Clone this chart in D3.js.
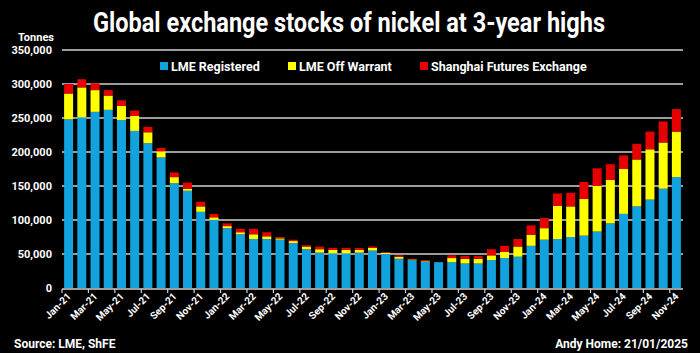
<!DOCTYPE html>
<html>
<head>
<meta charset="utf-8">
<script src="https://cdn.jsdelivr.net/npm/d3@7"></script>
<style>
  body { margin: 0; background: #000; }
  svg { display: block; }
  text { font-family: Roboto, "Liberation Sans", sans-serif; font-weight: bold; fill: #fff; }
</style>
</head>
<body>
<div id="chart"></div>
<script>
// months Jan-21 .. Nov-24
const months = ["Jan-21","Feb-21","Mar-21","Apr-21","May-21","Jun-21","Jul-21","Aug-21","Sep-21","Oct-21","Nov-21","Dec-21",
  "Jan-22","Feb-22","Mar-22","Apr-22","May-22","Jun-22","Jul-22","Aug-22","Sep-22","Oct-22","Nov-22","Dec-22",
  "Jan-23","Feb-23","Mar-23","Apr-23","May-23","Jun-23","Jul-23","Aug-23","Sep-23","Oct-23","Nov-23","Dec-23",
  "Jan-24","Feb-24","Mar-24","Apr-24","May-24","Jun-24","Jul-24","Aug-24","Sep-24","Oct-24","Nov-24"];

// tonnes (thousands)
const lmeRegistered = [248,251,259,262,247,231,213,192,154,143,112,100,
  88,79,72,72,71,66,57,52,51,51,52,55,
  50,43,41,39,38,38,36,36,41,44,46,62,
  71,72,75,77,83,95,109,120,130,146,163];
const lmeOffWarrant = [38,44,32,21,21,22,16,9,9,3,8,4,
  3,3,7,4,2,3,4,5,5,5,4,4,
  2,3,1,1,0,6,7,7,7,9,15,16,
  17,49,45,54,67,64,66,69,74,68,67];
const shfe = [14,12,10,8,8,8,8,5,7,9,7,5,
  4,5,8,6,2,2,2,4,3,3,3,2,
  1,2,1,1,0,4,4,4,9,9,11,14,
  15,18,20,25,26,23,20,23,26,31,33];

const yTicks = [0, 50000, 100000, 150000, 200000, 250000, 300000, 350000];
const seriesNames = ["LME Registered", "LME Off Warrant", "Shanghai Futures Exchange"];
const colors = ["#12a3de", "#ffff00", "#e60000"];

const W = 700, H = 353;
const margin = {top: 50, right: 17, bottom: 65, left: 62};

const svg = d3.select("#chart").append("svg").attr("width", W).attr("height", H);
svg.append("rect").attr("width", W).attr("height", H).attr("fill", "#000");

// table for the stack
const table = months.map((m, i) => ({
  month: m,
  "LME Registered": lmeRegistered[i] * 1000,
  "LME Off Warrant": lmeOffWarrant[i] * 1000,
  "Shanghai Futures Exchange": shfe[i] * 1000
}));
const stacked = d3.stack().keys(seriesNames)(table);

const x = d3.scaleBand().domain(months).range([margin.left, W - margin.right]).paddingInner(0.32).paddingOuter(0.16);
const y = d3.scaleLinear().domain([0, 350000]).range([H - margin.bottom, margin.top]);

// gridlines
svg.append("g").selectAll("line").data(yTicks.filter(d => d > 0)).join("line")
  .attr("x1", margin.left).attr("x2", W - margin.right)
  .attr("y1", d => y(d)).attr("y2", d => y(d))
  .attr("stroke", "#d0d0d0").attr("stroke-width", 1.5);

// y labels
svg.append("g").selectAll("text").data(yTicks).join("text")
  .attr("x", 52).attr("y", d => y(d)).attr("dy", "0.35em")
  .attr("text-anchor", "end").style("font-size", "11px")
  .text(d => d3.format(",")(d));

svg.append("text").attr("x", 36).attr("y", 41).attr("text-anchor", "middle")
  .style("font-size", "11px").text("Tonnes");

// bars
svg.append("g").selectAll("g").data(stacked).join("g")
  .attr("fill", (d, i) => colors[i])
  .selectAll("rect").data(d => d).join("rect")
  .attr("x", d => x(d.data.month))
  .attr("width", x.bandwidth())
  .attr("y", d => y(d[1]))
  .attr("height", d => y(d[0]) - y(d[1]));

// x axis
const step = x.step();
const tickMonths = months.filter((m, i) => i % 2 === 0);
const axis = svg.append("g");
axis.append("line").attr("x1", margin.left).attr("x2", W - margin.right)
  .attr("y1", y(0) + 1).attr("y2", y(0) + 1).attr("stroke", "#d0d0d0").attr("stroke-width", 1.5);
axis.selectAll("line.tick").data(tickMonths).join("line").attr("class", "tick")
  .attr("x1", d => x(d) - step * 0.16).attr("x2", d => x(d) - step * 0.16)
  .attr("y1", y(0) + 1).attr("y2", y(0) + 5).attr("stroke", "#d0d0d0").attr("stroke-width", 1.2);
axis.selectAll("text").data(tickMonths).join("text")
  .attr("text-anchor", "end").style("font-size", "10px")
  .attr("transform", d => `translate(${x(d) + x.bandwidth() / 2 + 3},${y(0) + 9}) rotate(-45)`)
  .text(d => d);

// title, squeezed to the width of the condensed original
svg.append("text").attr("x", 93).attr("y", 32)
  .attr("textLength", 512).attr("lengthAdjust", "spacingAndGlyphs")
  .style("font-size", "27px").text("Global exchange stocks of nickel at 3-year highs");

// legend
const legendX = [160, 288, 420];
const legend = svg.append("g").selectAll("g").data(seriesNames).join("g")
  .attr("transform", (d, i) => `translate(${legendX[i]},67)`);
legend.append("rect").attr("x", 0).attr("y", -5).attr("width", 8).attr("height", 8)
  .attr("fill", (d, i) => colors[i]);
legend.append("text").attr("x", 11).attr("y", 0).attr("dy", "0.35em")
  .style("font-size", "12.5px").text(d => d);

// footer
svg.append("text").attr("x", 14).attr("y", 348).style("font-size", "12px").text("Source: LME, ShFE");
svg.append("text").attr("x", 688).attr("y", 348).attr("text-anchor", "end")
  .style("font-size", "12px").text("Andy Home: 21/01/2025");
</script>
</body>
</html>
